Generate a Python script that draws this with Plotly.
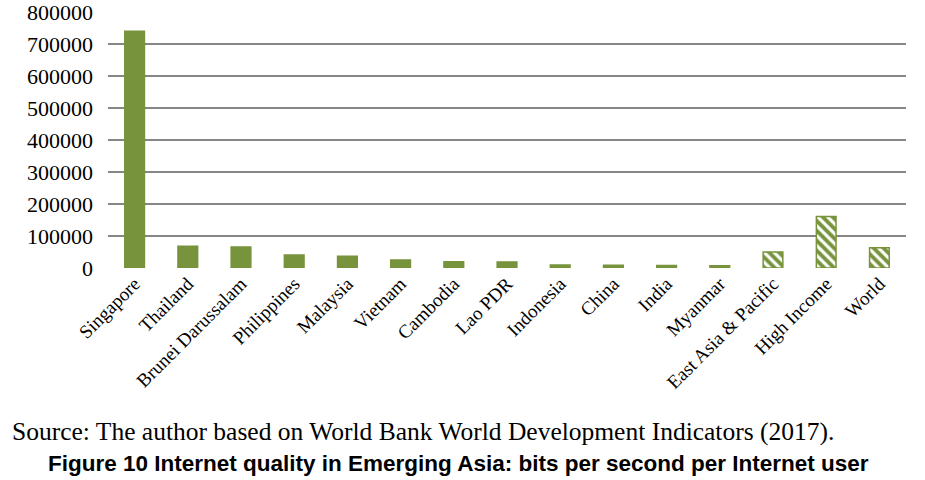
import plotly.graph_objects as go

categories = ["Singapore", "Thailand", "Brunei Darussalam", "Philippines", "Malaysia",
              "Vietnam", "Cambodia", "Lao PDR", "Indonesia", "China", "India",
              "Myanmar", "East Asia & Pacific", "High Income", "World"]
values = [740000, 68000, 65500, 40500, 37000, 25000, 19500, 19000, 9000, 8500,
          7500, 7000, 50000, 161000, 63500]
is_aggregate = [False] * 12 + [True] * 3
y_ticks = [0, 100000, 200000, 300000, 400000, 500000, 600000, 700000, 800000]

green = "#77933C"
shapes = ["\\" if a else "" for a in is_aggregate]

fig = go.Figure()
fig.add_trace(go.Bar(
    x=categories, y=values, width=0.37,
    marker=dict(color=green, line=dict(color=green, width=1.5),
                pattern=dict(shape=shapes, fgcolor="white", bgcolor=green,
                             size=7, solidity=0.45, fillmode="replace")),
    hoverinfo="x+y"))

fig.update_layout(
    width=925, height=480,
    margin=dict(l=108, r=19, t=12, b=212),
    plot_bgcolor="white", paper_bgcolor="white",
    showlegend=False,
    font=dict(family="Liberation Serif", color="black"),
    bargap=0.63,
)
fig.update_yaxes(range=[0, 800000], tickvals=y_ticks, ticktext=[str(v) for v in y_ticks],
                 showgrid=True, gridcolor="#868686", gridwidth=1.5,
                 zeroline=False, showline=False, ticks="", ticklen=0,
                 automargin=False, ticklabeloverflow="allow", ticklabelstandoff=14,
                 tickfont=dict(size=22, family="Liberation Serif"))
fig.update_xaxes(tickangle=-45, tickfont=dict(size=19, family="Liberation Serif"),
                 showline=False, ticks="", showgrid=False, automargin=False)

fig.add_annotation(text="Source: The author based on World Bank World Development Indicators (2017).",
                   xref="paper", yref="paper", x=-0.1228, y=-0.64, xanchor="left", yanchor="middle",
                   showarrow=False, font=dict(size=25.5, family="Liberation Serif", color="black"))
fig.add_annotation(text="<b>Figure 10 Internet quality in Emerging Asia: bits per second per Internet user</b>",
                   xref="paper", yref="paper", x=0.439, y=-0.762, xanchor="center", yanchor="middle",
                   showarrow=False, font=dict(size=22.5, family="Liberation Sans", color="black"))

fig.write_html("out.html", config={"displayModeBar": False},
               post_script="document.body.style.margin='0px';")
